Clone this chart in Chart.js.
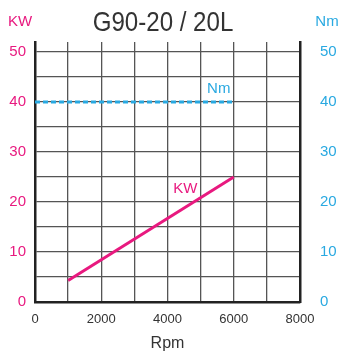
<!DOCTYPE html>
<html>
<head>
<meta charset="utf-8">
<script src="https://cdn.jsdelivr.net/npm/chart.js@4/dist/chart.umd.min.js"></script>
<style>
  html, body { margin: 0; padding: 0; background: #fff; }
  #wrap { width: 344px; height: 353px; }
</style>
</head>
<body>
<div id="wrap"><canvas id="canvas"></canvas></div>
<script>
// values
const kwRpm = [1000, 6000];
const kwValues = [4.3, 25];
const nmRpm = [0, 6000];
const nmValues = [40, 40];
const xTickLabels = [0, 2000, 4000, 6000, 8000];
const yTickLabels = [0, 10, 20, 30, 40, 50];
const yGridValues = [0, 5, 10, 15, 20, 25, 30, 35, 40, 45, 50];

const MAGENTA = '#e8197f';
const BLUE = '#29a9e1';
const FONT = '"Liberation Sans", Arial, sans-serif';

const toPoints = (xs, ys) => xs.map((x, i) => ({ x, y: ys[i] }));

// header texts and inline series labels
const textPlugin = {
  id: 'texts',
  afterDraw(chart) {
    const ctx = chart.ctx;
    const xs = chart.scales.x, ys = chart.scales.y;
    ctx.save();
    ctx.textBaseline = 'middle';

    // condensed title
    ctx.save();
    ctx.translate(163, 23);
    ctx.scale(0.86, 1);
    ctx.fillStyle = '#333';
    ctx.textAlign = 'center';
    ctx.font = '28px ' + FONT;
    ctx.fillText('G90-20 / 20L', 0, 0);
    ctx.restore();

    ctx.textAlign = 'center';
    ctx.font = '15px ' + FONT;
    ctx.fillStyle = MAGENTA;
    ctx.fillText('KW', 20, 22);
    ctx.fillStyle = BLUE;
    ctx.fillText('Nm', 327, 22);

    ctx.textAlign = 'right';
    ctx.fillStyle = BLUE;
    ctx.fillText('Nm', xs.getPixelForValue(5900), ys.getPixelForValue(42.7));
    ctx.fillStyle = MAGENTA;
    ctx.fillText('KW', xs.getPixelForValue(4900), ys.getPixelForValue(22.6));
    ctx.restore();
  }
};

const yTicksEvery5 = axis => {
  axis.ticks = yGridValues.map(v => ({ value: v }));
};

new Chart(document.getElementById('canvas'), {
  type: 'scatter',
  data: {
    datasets: [
      {
        label: 'Nm',
        data: toPoints(nmRpm, nmValues),
        showLine: true,
        borderColor: BLUE,
        borderWidth: 3,
        borderDash: [5, 3],
        pointRadius: 0,
        yAxisID: 'y2'
      },
      {
        label: 'KW',
        data: toPoints(kwRpm, kwValues),
        showLine: true,
        borderColor: MAGENTA,
        borderWidth: 3,
        pointRadius: 0,
        yAxisID: 'y'
      }
    ]
  },
  options: {
    responsive: true,
    maintainAspectRatio: false,
    animation: false,
    layout: { padding: { top: 42, left: 0, right: 0, bottom: 0 } },
    plugins: { legend: { display: false }, tooltip: { enabled: false } },
    scales: {
      x: {
        type: 'linear',
        min: 0,
        max: 8000,
        afterFit: axis => { axis.height = 51; },
        ticks: {
          stepSize: 1000,
          autoSkip: false,
          maxRotation: 0,
          padding: 10,
          color: '#333',
          font: { family: FONT, size: 13 },
          callback: v => xTickLabels.includes(v) ? String(v) : ''
        },
        grid: { color: '#555', lineWidth: 1.3, drawTicks: false },
        border: { color: '#222', width: 2.5 },
        title: {
          display: true,
          text: 'Rpm',
          color: '#333',
          font: { family: FONT, size: 16 },
          padding: { top: 0, bottom: 0 }
        }
      },
      y: {
        type: 'linear',
        position: 'left',
        min: 0,
        max: 52,
        afterBuildTicks: yTicksEvery5,
        afterFit: axis => { axis.width = 35; },
        ticks: {
          autoSkip: false,
          padding: 9,
          color: MAGENTA,
          font: { family: FONT, size: 15 },
          callback: v => yTickLabels.includes(v) ? String(v) : ''
        },
        grid: { color: '#555', lineWidth: 1.3, drawTicks: false },
        border: { color: '#222', width: 2.5 }
      },
      y2: {
        type: 'linear',
        position: 'right',
        min: 0,
        max: 52,
        afterBuildTicks: yTicksEvery5,
        afterFit: axis => { axis.width = 44; },
        ticks: {
          autoSkip: false,
          padding: 20,
          color: BLUE,
          font: { family: FONT, size: 15 },
          callback: v => yTickLabels.includes(v) ? String(v) : ''
        },
        grid: { display: false, drawTicks: false },
        border: { color: '#222', width: 2.5 }
      }
    }
  },
  plugins: [textPlugin]
});
</script>
</body>
</html>
